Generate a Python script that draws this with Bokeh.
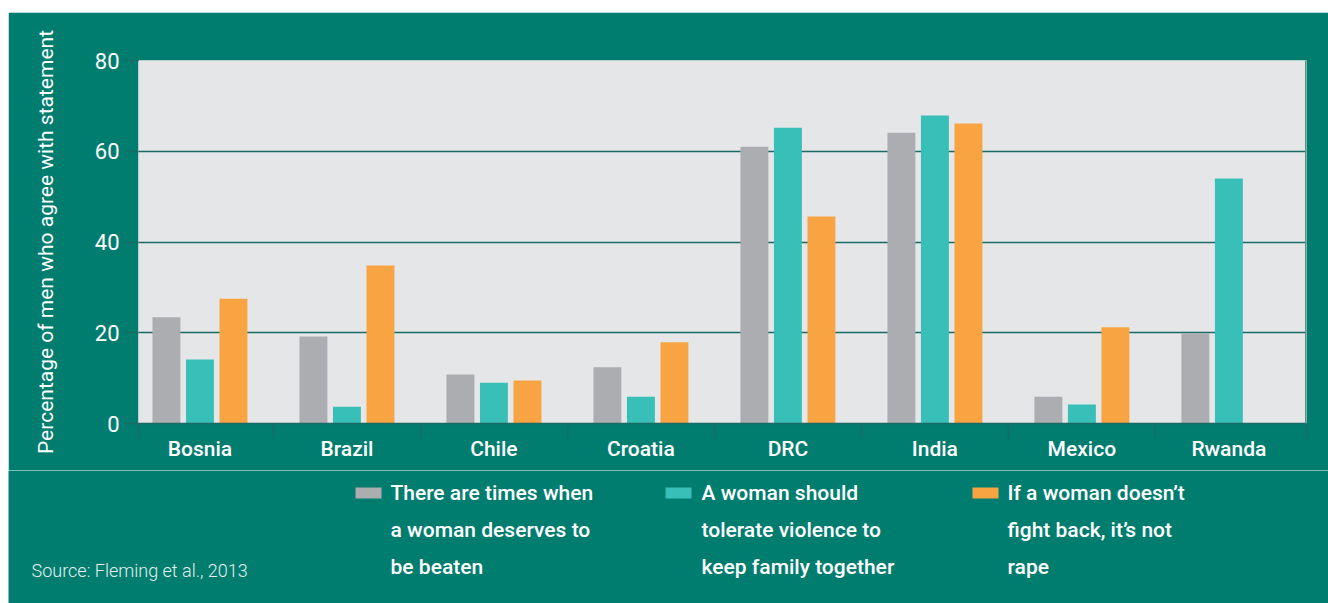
from bokeh.plotting import figure
from bokeh.models import Range1d, FixedTicker, Spacer, Column, Row, Span
from bokeh.core.properties import value
from bokeh.embed import file_html
from bokeh.resources import INLINE

countries = ["Bosnia", "Brazil", "Chile", "Croatia", "DRC", "India", "Mexico", "Rwanda"]
deserves_beaten = [23.4, 19.2, 10.8, 12.4, 61.0, 64.1, 5.9, 19.9]
tolerate_violence = [14.1, 3.7, 9.0, 5.9, 65.2, 67.9, 4.2, 54.0]
not_rape = [27.5, 34.8, 9.5, 17.9, 45.6, 66.1, 21.2, float("nan")]
series_labels = [
    ["There are times when", "a woman deserves to", "be beaten"],
    ["A woman should", "tolerate violence to", "keep family together"],
    ["If a woman doesn\u2019t", "fight back, it\u2019s not", "rape"],
]
y_ticks = [0, 20, 40, 60, 80]
y_label = "Percentage of men who agree with statement"
source_text = "Source: Fleming et al., 2013"

COLORS = ["#ABADB0", "#38BFB8", "#F9A443"]
BG = "#017D6F"
PLOT_BG = "#E5E6E8"
LINE = "#1A6A65"
FONT = "Roboto Medium, Roboto"
FONT_REG = "Roboto"
LIGHT = "Roboto Light, Roboto"

W = 1320
H1, H2 = 458, 133
X0, X1 = 0.082, 8.028

# ---------------- main chart ----------------
p = figure(width=W, height=H1, output_backend="svg", toolbar_location=None,
           x_range=Range1d(X0, X1), y_range=Range1d(0, 80),
           min_border_left=130, min_border_right=22, min_border_top=48, min_border_bottom=47)
p.background_fill_color = PLOT_BG
p.border_fill_color = BG
p.outline_line_color = None

centers = [i + 0.5 for i in range(len(countries))]
offsets = [-0.228, 0.0, 0.228]
for vals, off, col in zip([deserves_beaten, tolerate_violence, not_rape], offsets, COLORS):
    p.vbar(x=[c + off for c in centers], top=vals, width=0.19, color=col, line_color=None)

# thin right edge of the plot area
p.add_layout(Span(location=X1, dimension="height", line_color="#5E8F8B", line_width=3))

# y axis
p.yaxis.ticker = FixedTicker(ticks=y_ticks)
p.yaxis.axis_line_color = None
p.yaxis.major_tick_line_color = LINE
p.yaxis.major_tick_line_width = 1.5
p.yaxis.major_tick_out = 14
p.yaxis.major_tick_in = 0
p.yaxis.minor_tick_line_color = None
p.yaxis.major_label_text_color = "white"
p.yaxis.major_label_text_font = FONT_REG
p.yaxis.major_label_text_font_size = "22px"
p.yaxis.major_label_standoff = 5
p.yaxis.axis_label = y_label
p.yaxis.axis_label_text_color = "white"
p.yaxis.axis_label_text_font = FONT_REG
p.yaxis.axis_label_text_font_size = "21px"
p.yaxis.axis_label_text_font_style = "normal"
p.yaxis.axis_label_standoff = 34

# x axis
bounds = [X0] + list(range(1, len(countries))) + [X1]
p.xaxis.ticker = FixedTicker(ticks=centers, minor_ticks=bounds)
p.xaxis.major_label_overrides = {c: n for c, n in zip(centers, countries)}
p.xaxis.major_tick_line_color = None
p.xaxis.major_tick_out = 0
p.xaxis.major_tick_in = 0
p.xaxis.minor_tick_line_color = LINE
p.xaxis.minor_tick_line_width = 1.5
p.xaxis.minor_tick_out = 15
p.xaxis.minor_tick_in = 0
p.xaxis.axis_line_color = LINE
p.xaxis.axis_line_width = 1.5
p.xaxis.major_label_text_color = "white"
p.xaxis.major_label_text_font = FONT
p.xaxis.major_label_text_font_size = "21px"
p.xaxis.major_label_standoff = -2

p.xgrid.grid_line_color = None
p.ygrid.ticker = FixedTicker(ticks=y_ticks)
p.ygrid.grid_line_color = LINE
p.ygrid.grid_line_width = 1.5

# ---------------- legend + source strip (pixel coordinates) ----------------
q = figure(width=W, height=H2, output_backend="svg", toolbar_location=None,
           x_range=Range1d(0, W), y_range=Range1d(H2, 0),
           x_axis_type=None, y_axis_type=None,
           min_border=0, min_border_left=0, min_border_right=0,
           min_border_top=0, min_border_bottom=0)
q.background_fill_color = BG
q.border_fill_color = BG
q.outline_line_color = None
q.grid.visible = False

text_x = [382, 693, 999]
sw_x = [347, 657, 964]
line_y = [22, 59, 96]
q.quad(left=sw_x, right=[x + 26 for x in sw_x], top=[17] * 3, bottom=[28] * 3,
       fill_color=COLORS, line_color=None)
for k in range(3):
    q.text(x=[text_x[k]] * 3, y=line_y, text=series_labels[k], text_color="white",
           text_font=value(FONT), text_font_size="21px", text_baseline="middle")
q.text(x=[23], y=[100], text=[source_text], text_color="#E4F0EE",
       text_font=value(LIGHT), text_font_size="18px", text_baseline="middle")

top = Column(Spacer(height=12, width=W + 8), Row(Spacer(width=8, height=H1), p))
bottom = Row(Spacer(width=8, height=H2), q)
open("out.html", "w").write(file_html([top, bottom], INLINE))
